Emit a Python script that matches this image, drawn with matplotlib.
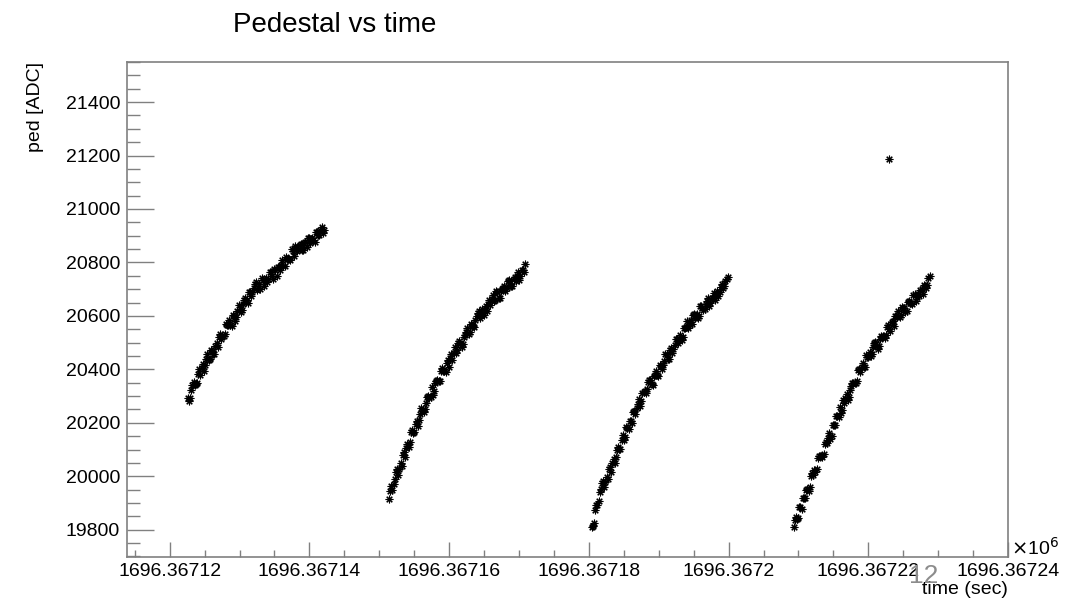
import numpy as np
import matplotlib
matplotlib.use("Agg")
import matplotlib.pyplot as plt
from matplotlib.ticker import MultipleLocator, FuncFormatter

plt.rcParams['font.family'] = ['Liberation Sans', 'DejaVu Sans']

# pedestal readings, four runs; two interleaved channels, each read every 0.33 s
sample_step = 0.33
b_offset = 0.165
run_starts = [1696367122.6, 1696367151.4, 1696367180.4, 1696367209.3]

ped_run1 = [20293, 20293, 20340, 20340, 20350, 20400, 20405, 20395, 20440, 20435,
            20473, 20459, 20489, 20484, 20534, 20526, 20532, 20567, 20584, 20564,
            20600, 20597, 20639, 20616, 20646, 20667, 20650, 20689, 20690, 20718,
            20698, 20718, 20741, 20713, 20743, 20739, 20764, 20737, 20770, 20783,
            20772, 20808, 20788, 20814, 20814, 20851, 20823, 20854, 20849, 20870,
            20847, 20877, 20892, 20874, 20893, 20877, 20915, 20904, 20932, 20921]
ped_run2 = [19915, 19963, 19971, 20016, 20006, 20051, 20079, 20072, 20119, 20129,
            20173, 20164, 20205, 20211, 20255, 20239, 20273, 20301, 20298, 20305,
            20350, 20361, 20358, 20405, 20395, 20424, 20410, 20457, 20461, 20460,
            20499, 20495, 20493, 20530, 20554, 20540, 20565, 20560, 20598, 20619,
            20604, 20603, 20638, 20643, 20639, 20677, 20661, 20690, 20666, 20699,
            20711, 20706, 20733, 20711, 20738, 20730, 20765, 20749, 20772, 20796]
ped_run3 = [19812, 19826, 19892, 19908, 19951, 19982, 19979, 19991, 20035, 20048,
            20048, 20099, 20102, 20135, 20135, 20185, 20178, 20208, 20241, 20234,
            20271, 20262, 20311, 20318, 20326, 20360, 20344, 20375, 20393, 20376,
            20412, 20418, 20456, 20439, 20471, 20460, 20491, 20513, 20508, 20508,
            20556, 20560, 20555, 20583, 20605, 20592, 20593, 20636, 20628, 20626,
            20655, 20638, 20667, 20686, 20673, 20675, 20708, 20706, 20732, 20746]
ped_run4 = [19809, 19846, 19844, 19885, 19919, 19918, 19953, 19958, 20011, 20025,
            20026, 20076, 20075, 20084, 20129, 20143, 20140, 20193, 20191, 20225,
            20260, 20248, 20274, 20308, 20295, 20337, 20349, 20350, 20397, 20390,
            20425, 20409, 20446, 20464, 20459, 20499, 20487, 20488, 20524, 20525,
            20527, 20565, 20542, 20581, 20600, 20594, 20597, 20633, 20630, 20618,
            20654, 20647, 20679, 20657, 20682, 20696, 20681, 20711, 20717, 20750]

# second channel, read half a step later
ped_run1_b = [20281, 20322, 20354, 20347, 20382, 20380, 20420, 20416, 20456, 20437,
              20468, 20458, 20500, 20521, 20514, 20523, 20568, 20566, 20566, 20602,
              20580, 20619, 20627, 20621, 20660, 20659, 20691, 20676, 20703, 20725,
              20704, 20702, 20735, 20733, 20725, 20765, 20748, 20774, 20749, 20784,
              20789, 20785, 20820, 20811, 20809, 20843, 20860, 20841, 20866, 20848,
              20872, 20856, 20890, 20889, 20884, 20914, 20902, 20922, 20909]
ped_run2_b = [19946, 19949, 19991, 20027, 20026, 20038, 20092, 20106, 20111, 20167,
              20161, 20196, 20189, 20232, 20246, 20251, 20296, 20293, 20333, 20318,
              20356, 20355, 20392, 20392, 20391, 20435, 20444, 20436, 20483, 20473,
              20505, 20484, 20521, 20539, 20532, 20570, 20561, 20583, 20610, 20591,
              20624, 20622, 20618, 20658, 20662, 20654, 20692, 20666, 20693, 20706,
              20694, 20729, 20715, 20712, 20747, 20748, 20736, 20770, 20765]
ped_run3_b = [19815, 19872, 19891, 19940, 19973, 19959, 19997, 20026, 20016, 20064,
              20072, 20111, 20103, 20156, 20147, 20179, 20208, 20199, 20244, 20254,
              20290, 20281, 20314, 20310, 20352, 20359, 20342, 20377, 20380, 20417,
              20402, 20430, 20457, 20438, 20479, 20477, 20514, 20497, 20527, 20520,
              20555, 20581, 20566, 20570, 20607, 20608, 20601, 20637, 20623, 20645,
              20666, 20647, 20667, 20659, 20692, 20689, 20718, 20710, 20737]
ped_run4_b = [19837, 19839, 19886, 19878, 19919, 19948, 19945, 20002, 20005, 20017,
              20068, 20074, 20073, 20119, 20124, 20162, 20150, 20191, 20225, 20221,
              20237, 20286, 20292, 20287, 20323, 20348, 20348, 20355, 20403, 20410,
              20410, 20453, 20447, 20450, 20483, 20502, 20477, 20514, 20520, 20518,
              20558, 20550, 20578, 20563, 20598, 20618, 20605, 20630, 20616, 20651,
              20650, 20643, 20683, 20669, 20673, 20700, 20715, 20703, 20741]

# one stray reading during the last run
spike_time = [1696367222.9]
spike_ped = [21188]

runs_a = [ped_run1, ped_run2, ped_run3, ped_run4]
runs_b = [ped_run1_b, ped_run2_b, ped_run3_b, ped_run4_b]

fig = plt.figure(figsize=(10.81, 6.0), dpi=100)
ax = fig.add_axes([0.1175, 0.0717, 0.815, 0.825])

star = dict(linestyle='none', marker=(8, 2, 0), ms=5.5, mew=0.8, color='black')
for t0, ped_a, ped_b in zip(run_starts, runs_a, runs_b):
    ax.plot(t0 + sample_step * np.arange(len(ped_a)), ped_a, **star)
    ax.plot(t0 + b_offset + sample_step * np.arange(len(ped_b)), ped_b, **star)
ax.plot(spike_time, spike_ped, **star)

ax.set_xlim(1696367113.9, 1696367240.0)
ax.set_ylim(19698, 21550)

ax.xaxis.set_major_locator(MultipleLocator(20))
ax.xaxis.set_minor_locator(MultipleLocator(5))
ax.yaxis.set_major_locator(MultipleLocator(200))
ax.yaxis.set_minor_locator(MultipleLocator(50))
ax.xaxis.set_major_formatter(FuncFormatter(lambda v, p: f"{v / 1e6:.10g}"))
ax.yaxis.set_major_formatter(FuncFormatter(lambda v, p: f"{v:.0f}"))

frame_col = '#808080'
for s in ax.spines.values():
    s.set_color(frame_col)
    s.set_linewidth(1.2)

ax.tick_params(axis='both', which='both', direction='in', color=frame_col,
               width=1.0, labelsize=14, labelcolor='black',
               top=False, right=False)
ax.tick_params(axis='y', which='major', length=19.5, pad=5)
ax.tick_params(axis='y', which='minor', length=9.5)
ax.tick_params(axis='x', which='major', length=10.8, pad=4)
ax.tick_params(axis='x', which='minor', length=5.2)

fig.text(334.5 / 1081, 1 - 32 / 600, 'Pedestal vs time', fontsize=20,
         ha='center', va='baseline')
fig.text(36 / 1081, 1 - 62 / 600, 'ped [ADC]', fontsize=14, rotation=90,
         ha='center', va='top')
fig.text(1008 / 1081, 1 - 594 / 600, 'time (sec)', fontsize=14,
         ha='right', va='baseline')
fig.text(1011 / 1081, 1 - 555 / 600, r'$\times$10$^{6}$', fontsize=14,
         ha='left', va='baseline')
fig.text(924 / 1081, 1 - 576 / 600, '12', fontsize=19, color='#8c8c8c',
         ha='center', va='center')

fig.savefig('out.png', dpi=100)
